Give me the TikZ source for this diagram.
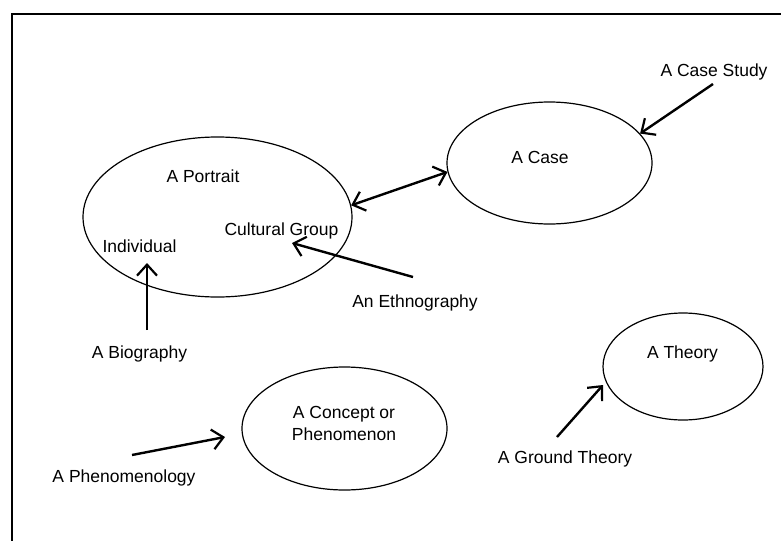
\documentclass[tikz,border=0pt]{standalone}
\usepackage{fontspec}
\setmainfont{Liberation Sans}
\usetikzlibrary{shapes.geometric,arrows.meta}
\begin{document}
\begin{tikzpicture}[x=1pt,y=-1pt,
  lbl/.style={font=\fontsize{17.5}{22}\selectfont, inner sep=0pt, anchor=base},
  oval/.style={draw, ellipse, line width=1.2pt, inner sep=0pt},
  arr/.style={line width=2.4pt, -{Straight Barb[length=11pt,width=20pt,line width=2.2pt]}},
  darr/.style={line width=2.4pt, {Straight Barb[length=11pt,width=20pt,line width=2.2pt]}-{Straight Barb[length=11pt,width=20pt,line width=2.2pt]}},
  frame/.style={line width=2pt}
]
\useasboundingbox (0,0) rectangle (781,541);
% open frame
\coordinate (fTR) at (781,14);
\coordinate (fTL) at (12,14);
\coordinate (fBL) at (12,541);
\draw[frame] (fTR) -- (fTL) -- (fBL);

% ellipses
\node[oval, minimum width=269pt, minimum height=160pt] (portrait) at (217.5,217) {};
\node[oval, minimum width=205pt, minimum height=122pt] (case) at (549.5,163) {};
\node[oval, minimum width=205pt, minimum height=123pt] (concept) at (344.5,428.5) {};
\node[oval, minimum width=160pt, minimum height=107pt] (theory) at (683,366.5) {};

% texts
\node[lbl] (tportrait) at (203,182) {A Portrait};
\node[lbl] (culture) at (281.5,235) {Cultural Group};
\node[lbl] (indiv) at (139.5,252) {Individual};
\node[lbl] (bio) at (139.5,358) {A Biography};
\node[lbl] (ethno) at (415,307) {An Ethnography};
\node[lbl] (tcase) at (540,163) {A Case};
\node[lbl] (casestudy) at (714,76) {A Case Study};
\node[lbl, anchor=north, align=center] (tconcept) at (344,406.5) {A Concept or\\Phenomenon};
\node[lbl] (ttheory) at (682.5,358) {A Theory};
\node[lbl] (ground) at (565,463) {A Ground Theory};
\node[lbl] (phenom) at (124,482) {A Phenomenology};

% connector ends
\coordinate (bioS) at (147,330);
\coordinate (indivT) at (147,263);
\coordinate (ethS) at (413,277);
\coordinate (cultT) at (292,243);
\coordinate (phS) at (132,455);
\coordinate (conT) at (225,437);
\coordinate (csS) at (713,84);
\coordinate (gS) at (557,437);
\coordinate (thT) at (603,385);

% connectors
\draw[arr] (bioS) -- (indivT);
\draw[arr] (ethS) -- (cultT);
\draw[arr] (phS) -- (conT);
\draw[arr] (csS) -- (case.18);
\draw[arr] (gS) -- (thT);
\draw[darr] (portrait.5) -- (case.185);
\end{tikzpicture}
\end{document}
